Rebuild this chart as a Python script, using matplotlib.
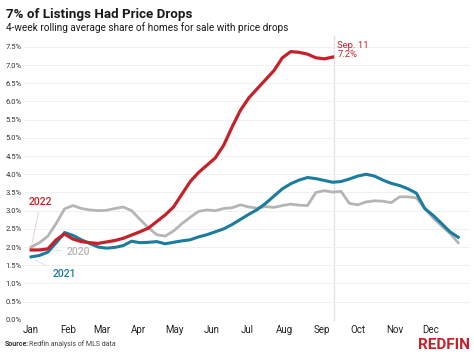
import numpy as np
import matplotlib
matplotlib.use("Agg")
import matplotlib.pyplot as plt

# weekly share of listings with a price drop (%), week 0 = first week of Jan
share_2020 = [2.00, 2.12, 2.30, 2.65, 3.05, 3.14, 3.06, 3.02, 3.00, 3.01,
              3.06, 3.10, 3.00, 2.76, 2.53, 2.34, 2.30, 2.44, 2.64, 2.82,
              2.98, 3.02, 3.00, 3.06, 3.08, 3.16, 3.10, 3.07, 3.11, 3.09,
              3.14, 3.18, 3.15, 3.14, 3.50, 3.55, 3.51, 3.53, 3.20, 3.16,
              3.24, 3.27, 3.26, 3.22, 3.38, 3.38, 3.35, 3.06, 2.80, 2.58,
              2.38, 2.12]
share_2021 = [1.73, 1.77, 1.86, 2.12, 2.40, 2.32, 2.20, 2.10, 2.00, 1.97,
              1.99, 2.04, 2.16, 2.12, 2.13, 2.15, 2.09, 2.13, 2.17, 2.20,
              2.28, 2.34, 2.42, 2.50, 2.62, 2.76, 2.90, 3.03, 3.20, 3.40,
              3.60, 3.74, 3.84, 3.91, 3.88, 3.83, 3.78, 3.80, 3.87, 3.95,
              4.00, 3.95, 3.84, 3.75, 3.69, 3.60, 3.48, 3.06, 2.87, 2.65,
              2.42, 2.27]
share_2022 = [1.92, 1.92, 1.95, 2.20, 2.36, 2.22, 2.15, 2.12, 2.10, 2.14,
              2.18, 2.24, 2.33, 2.42, 2.52, 2.70, 2.88, 3.10, 3.45, 3.80,
              4.05, 4.25, 4.45, 4.80, 5.30, 5.76, 6.10, 6.35, 6.60, 6.85,
              7.20, 7.37, 7.35, 7.30, 7.20, 7.17, 7.22]

months = ["Jan", "Feb", "Mar", "Apr", "May", "Jun",
          "Jul", "Aug", "Sep", "Oct", "Nov", "Dec"]
month_start_day = [0, 31, 59, 90, 120, 151, 181, 212, 243, 273, 304, 334]
y_ticks = np.arange(0, 7.51, 0.5)

red = "#c4222a"
blue = "#1b7c9e"
gray = "#b5b5b5"
text_color = "#333333"

fig = plt.figure(figsize=(4.74, 3.55), dpi=100)
ax = fig.add_axes([0.053, 0.099, 0.939, 0.769])

days_2020 = np.arange(len(share_2020)) * 7
days_2021 = np.arange(len(share_2021)) * 7
days_2022 = np.arange(len(share_2022)) * 7

ax.plot(days_2020, share_2020, color=gray, lw=2.0, solid_joinstyle="round", zorder=3)
ax.plot(days_2021, share_2021, color=blue, lw=2.2, solid_joinstyle="round", zorder=4)
ax.plot(days_2022, share_2022, color=red, lw=2.3, solid_joinstyle="round", zorder=5)

ax.set_xlim(-5, 367)
ax.set_ylim(0, 7.5)

# vertical marker at the latest data point
last_day = days_2022[-1] + 1
ax.axvline(last_day, ymin=0, ymax=1.04, color="#e3e3e3", lw=1, zorder=1, clip_on=False)

ax.set_yticks(y_ticks)
ax.set_yticklabels([f"{v:.1f}%" for v in y_ticks], fontsize=5.5, color=text_color,
                   family="Roboto", ha="left")
ax.tick_params(axis="y", length=0, pad=14)
ax.set_xticks(month_start_day)
ax.set_xticklabels(months, fontsize=7, color="#222222", family="Roboto")
ax.tick_params(axis="x", length=0, pad=4)
ax.grid(axis="y", color="#f0f0f0", lw=0.7, zorder=0)
for s in ax.spines.values():
    s.set_visible(False)

# series labels with thin leader lines
ax.annotate("2022", xy=(days_2022[0], share_2022[0] + 0.05), xytext=(-2, 3.15),
            fontsize=7.5, color=red, family="Roboto", fontweight="medium",
            arrowprops=dict(arrowstyle="-", color="#e8c9c9", lw=0.6))
ax.annotate("2020", xy=(days_2020[0] + 4, share_2020[0] - 0.05), xytext=(30, 1.78),
            fontsize=7.5, color=gray, family="Roboto", fontweight="medium",
            arrowprops=dict(arrowstyle="-", color="#dddddd", lw=0.6))
ax.annotate("2021", xy=(days_2021[0] + 1, share_2021[0] - 0.05), xytext=(18, 1.17),
            fontsize=7.5, color=blue, family="Roboto", fontweight="medium",
            arrowprops=dict(arrowstyle="-", color="#d5e2e8", lw=0.6))

ax.text(last_day + 3, share_2022[-1] + 0.2, f"Sep. 11\n{share_2022[-1]:.1f}%",
        fontsize=6.8, color=red, family="Roboto", va="center", linespacing=1.0)

fig.text(0.013, 0.958, "7% of Listings Had Price Drops", fontsize=9.6, fontweight="bold",
         color="#1a1a1a", family="Roboto", va="center")
fig.text(0.013, 0.922, "4-week rolling average share of homes for sale with price drops",
         fontsize=7.2, color="#1a1a1a", family="Roboto", va="center")
fig.text(0.011, 0.032, "Source:", fontsize=5, fontweight="bold", color="#333333",
         family="Roboto", va="center")
fig.text(0.062, 0.032, "Redfin analysis of MLS data", fontsize=5, color="#444444",
         family="Roboto", va="center")
fig.text(0.992, 0.028, "REDFIN", fontsize=11, fontweight="bold", color=red,
         family="Roboto", va="center", ha="right")

fig.savefig("out.png", dpi=100)
